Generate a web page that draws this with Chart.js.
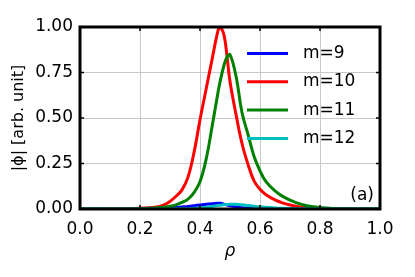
<!DOCTYPE html>
<html>
<head>
<meta charset="utf-8">
<script src="https://cdn.jsdelivr.net/npm/chart.js@4/dist/chart.umd.min.js"></script>
<style>
  html, body { margin: 0; padding: 0; background: #fff; }
  #wrap { width: 415px; height: 277px; }
</style>
</head>
<body>
<div id="wrap"><canvas id="chart" width="415" height="277"></canvas></div>
<script>
// radial grid (rho) and |phi| profiles
const rho = [0, 0.05, 0.1, 0.15, 0.2, 0.25, 0.28, 0.30, 0.32, 0.34, 0.36, 0.38, 0.40, 0.42, 0.44, 0.46, 0.467,
             0.48, 0.49, 0.50, 0.52, 0.54, 0.56, 0.58, 0.60, 0.62, 0.65, 0.68, 0.72, 0.76, 0.80, 0.85, 0.90, 0.95, 1.0];

const m9  = [0, 0.001, 0.001, 0.001, 0.001, 0.002, 0.003, 0.005, 0.008, 0.011, 0.014, 0.018, 0.022, 0.026, 0.029, 0.031, 0.031,
             0.027, 0.022, 0.018, 0.011, 0.007, 0.005, 0.004, 0.003, 0.002, 0.002, 0.001, 0.001, 0.001, 0.001, 0, 0, 0, 0];
const m10 = [0, 0, 0.001, 0.002, 0.004, 0.010, 0.023, 0.042, 0.070, 0.105, 0.175, 0.310, 0.490, 0.655, 0.820, 0.980, 1.0,
             0.955, 0.840, 0.700, 0.520, 0.360, 0.245, 0.155, 0.108, 0.078, 0.050, 0.031, 0.015, 0.007, 0.003, 0.001, 0, 0, 0];
const m11 = [0, 0, 0, 0, 0.002, 0.005, 0.010, 0.015, 0.023, 0.036, 0.054, 0.090, 0.150, 0.270, 0.450, 0.640, 0.700,
             0.790, 0.835, 0.848, 0.730, 0.530, 0.410, 0.290, 0.210, 0.150, 0.100, 0.065, 0.035, 0.017, 0.008, 0.003, 0.001, 0, 0];
const m12 = [0, 0, 0, 0, 0, 0, 0, 0, 0.001, 0.001, 0.002, 0.004, 0.006, 0.010, 0.014, 0.020, 0.021,
             0.024, 0.025, 0.026, 0.026, 0.023, 0.019, 0.015, 0.012, 0.009, 0.006, 0.004, 0.002, 0.001, 0, 0, 0, 0, 0];

const labels = ['m=9', 'm=10', 'm=11', 'm=12'];
const colors = ['#0000ff', '#ff0000', '#008000', '#00bfbf'];
const series = [m9, m10, m11, m12];

const xTicks = [0, 0.2, 0.4, 0.6, 0.8, 1.0];
const yTicks = [0, 0.25, 0.5, 0.75, 1.0];

const FONT = 'DejaVu Sans';

// frame, inward tick marks, legend and panel tag
const decorPlugin = {
    id: 'decor',
    afterDatasetsDraw(chart) {
        const ctx = chart.ctx;
        const a = chart.chartArea;
        const xs = chart.scales.x, ys = chart.scales.y;
        ctx.save();
        ctx.strokeStyle = '#000';
        ctx.lineWidth = 1.5;
        xTicks.forEach(v => {
            const px = xs.getPixelForValue(v);
            ctx.beginPath();
            ctx.moveTo(px, a.bottom); ctx.lineTo(px, a.bottom - 4);
            ctx.moveTo(px, a.top); ctx.lineTo(px, a.top + 4);
            ctx.stroke();
        });
        yTicks.forEach(v => {
            const py = ys.getPixelForValue(v);
            ctx.beginPath();
            ctx.moveTo(a.left, py); ctx.lineTo(a.left + 4, py);
            ctx.moveTo(a.right, py); ctx.lineTo(a.right - 4, py);
            ctx.stroke();
        });
        ctx.lineWidth = 3;
        ctx.strokeRect(a.left, a.top, a.right - a.left, a.bottom - a.top);

        // legend
        ctx.font = '17px "' + FONT + '"';
        ctx.textBaseline = 'middle';
        ctx.textAlign = 'left';
        chart.data.datasets.forEach((ds, i) => {
            const y = 53.5 + i * 28.3;
            ctx.strokeStyle = ds.borderColor;
            ctx.lineWidth = 3;
            ctx.beginPath();
            ctx.moveTo(247, y); ctx.lineTo(288, y);
            ctx.stroke();
            ctx.fillStyle = '#000';
            ctx.fillText(ds.label, 303, y);
        });

        ctx.textAlign = 'right';
        ctx.fillText('(a)', 374, 196);
        ctx.restore();
    }
};

new Chart(document.getElementById('chart'), {
    type: 'line',
    data: {
        datasets: series.map((s, i) => ({
            label: labels[i],
            data: rho.map((r, k) => ({ x: r, y: s[k] })),
            borderColor: colors[i],
            borderWidth: 3,
            pointRadius: 0,
            fill: false,
            tension: 0.4,
            order: series.length - i
        }))
    },
    options: {
        responsive: false,
        animation: false,
        layout: { padding: { top: 27, right: 35, left: 0, bottom: 0 } },
        plugins: { legend: { display: false }, tooltip: { enabled: false } },
        scales: {
            x: {
                type: 'linear',
                min: 0, max: 1,
                afterFit: s => { s.height = 68; },
                afterBuildTicks: s => { s.ticks = xTicks.map(v => ({ value: v })); },
                ticks: {
                    callback: v => v.toFixed(1),
                    color: '#000',
                    font: { family: FONT, size: 17 },
                    padding: 10,
                    maxRotation: 0
                },
                grid: { color: '#c8c8c8', lineWidth: 1, drawTicks: false },
                border: { display: false },
                title: {
                    display: true,
                    text: 'ρ',
                    color: '#000',
                    font: { family: FONT, size: 17, style: 'italic' },
                    padding: { top: 0, bottom: 15 }
                }
            },
            y: {
                min: 0, max: 1,
                afterFit: s => { s.width = 80; },
                afterBuildTicks: s => { s.ticks = yTicks.map(v => ({ value: v })); },
                ticks: {
                    callback: v => v.toFixed(2),
                    color: '#000',
                    font: { family: FONT, size: 17 },
                    padding: 7
                },
                grid: { color: '#c8c8c8', lineWidth: 1, drawTicks: false },
                border: { display: false },
                title: {
                    display: true,
                    text: '|ϕ| [arb. unit]',
                    color: '#000',
                    font: { family: FONT, size: 16 },
                    padding: { top: 9, bottom: 0 }
                }
            }
        }
    },
    plugins: [decorPlugin]
});
</script>
</body>
</html>
